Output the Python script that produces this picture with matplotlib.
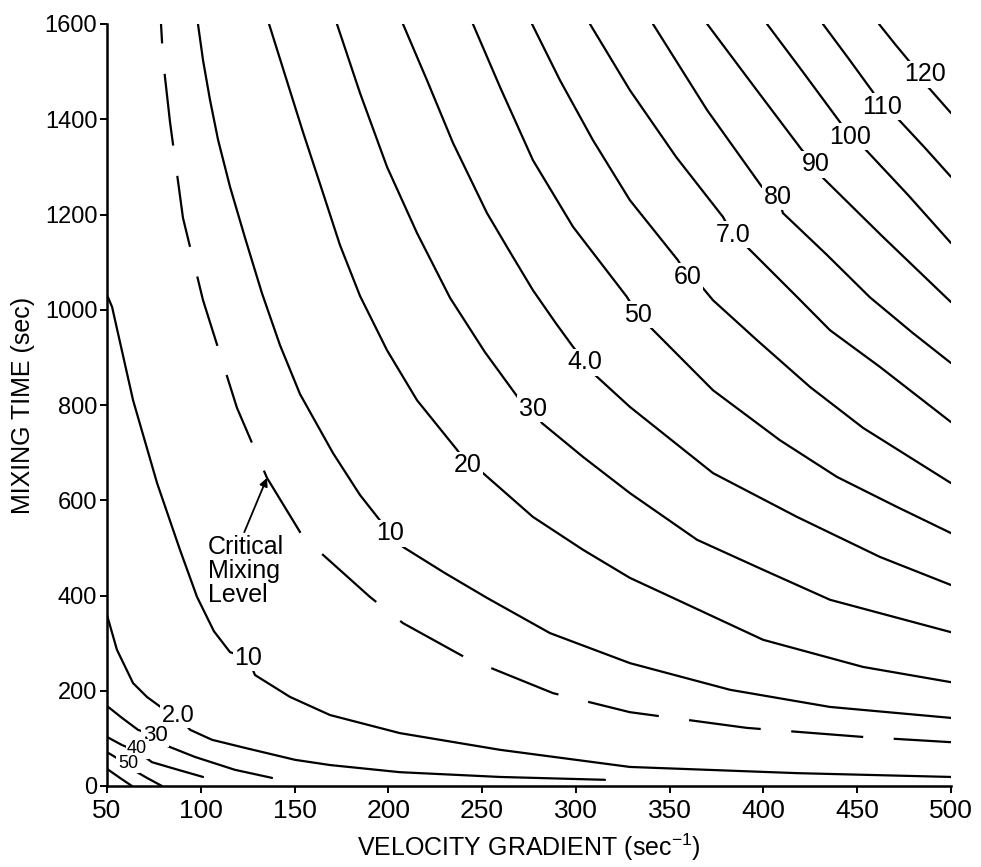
import matplotlib
matplotlib.use("Agg")
import matplotlib.pyplot as plt

plt.rcParams['font.family'] = ['Liberation Sans', 'DejaVu Sans']
plt.rcParams['mathtext.fontset'] = 'custom'
plt.rcParams['mathtext.rm'] = 'Liberation Sans'
plt.rcParams['lines.scale_dashes'] = False

# ---- data (velocity gradient G, mixing time t) ----
# upper family of curves
u10_g = [98.5, 101.2, 104.9, 109.2, 115.6, 123.6, 132.6, 142.2, 152.9, 170.5, 184.9, 200.9, 207.8, 230.2, 252.6, 286.2, 328.8, 382.2, 435.5, 500]
u10_t = [1600, 1524, 1441, 1357, 1258, 1151, 1035, 926, 823, 699, 611, 531, 502, 447, 395, 321, 258, 202, 166, 143]

u20_g = [136.4, 145.4, 154.5, 164.1, 174.2, 184.9, 199.3, 215.3, 236.6, 242.5, 249.9, 277.1, 303.8, 328.8, 351.8, 399.8, 453.1, 500]
u20_t = [1600, 1487, 1373, 1258, 1136, 1029, 915, 810, 706, 674, 659, 565, 496, 437, 395, 307, 250, 218]

u30_g = [172.6, 184.9, 199.3, 215.3, 232.9, 251.5, 270.2, 277.1, 281.9, 303.8, 328.8, 364.6, 399.8, 435.5, 500]
u30_t = [1600, 1455, 1300, 1161, 1025, 911, 810, 792, 762, 691, 615, 517, 454, 391, 323]

u40_g = [207.8, 220.6, 234.5, 252.6, 264.9, 277.1, 288.9, 298.5, 304.9, 310.2, 328.8, 373.1, 417.9, 462.1, 500]
u40_t = [1600, 1482, 1350, 1203, 1121, 1041, 974, 922, 890, 863, 796, 657, 565, 481, 422]

u50_g = [245.1, 259.5, 277.1, 298.5, 327.2, 333.1, 339.5, 373.1, 408.8, 439.2, 471.2, 500]
u50_t = [1600, 1468, 1314, 1174, 1027, 989, 964, 831, 726, 649, 586, 531]

u60_g = [276.6, 291.5, 309.1, 328.8, 354.4, 359.8, 367.2, 373.1, 396.6, 424.8, 453.1, 500]
u60_t = [1600, 1482, 1356, 1230, 1104, 1069, 1048, 1020, 936, 838, 752, 636]

u70_g = [307.5, 328.8, 353.4, 378.4, 383.8, 391.2, 417.9, 435.5, 462.1, 500]
u70_t = [1600, 1461, 1321, 1195, 1157, 1132, 1027, 957, 880, 764]

u80_g = [341.1, 370.0, 399.2, 407.7, 410.4, 433.9, 456.8, 479.7, 500]
u80_t = [1600, 1419, 1258, 1237, 1203, 1115, 1026, 951, 888]

u90_g = [370.0, 395.5, 420.6, 428.0, 431.7, 463.7, 500]
u90_t = [1600, 1466, 1335, 1306, 1277, 1153, 1016]

u100_g = [401.9, 421.1, 440.8, 446.1, 453.1, 477.1, 500]
u100_t = [1600, 1499, 1394, 1363, 1342, 1241, 1140]

u110_g = [431.7, 445.1, 458.4, 463.2, 471.2, 486.1, 500]
u110_t = [1600, 1529, 1457, 1426, 1403, 1340, 1279]

u120_g = [461.6, 470.1, 478.1, 486.1, 487.7, 500]
u120_t = [1600, 1558, 1520, 1495, 1468, 1413]

# lower family of curves
l10_g = [50, 52.7, 63.9, 76.7, 88.9, 98.0, 107.0, 115.6, 125.2, 128.9, 147.6, 168.9, 206.2, 259.5, 328.8, 417.9, 500]
l10_t = [1031, 1006, 810, 636, 496, 397, 325, 281, 269, 233, 187, 149, 111, 76, 40, 27, 19]

l20_g = [50, 55.3, 63.9, 71.3, 79.3, 87.9, 94.3, 106.0, 123.6, 150.2, 168.9, 206.2, 259.5, 315.5]
l20_t = [359, 286, 216, 187, 164, 147, 118, 97, 80, 55, 44, 29, 19, 13]

l30_g = [50, 58.0, 66.5, 75.6, 80.9, 96.9, 118.2, 138.0]
l30_t = [168, 143, 118, 105, 86, 61, 34, 17]

l40_g = [50, 58.0, 66.0, 74.0, 87.9, 101.2]
l40_t = [103, 86, 73, 50, 34, 19]

l50_g = [50, 54.3, 60.1, 63.9, 71.3, 79.3]
l50_t = [71, 61, 46, 34, 17, 0]

l60_g = [50, 56.9, 63.3]
l60_t = [36, 17, 0]

# critical mixing level (dashed)
crit_g = [78.8, 79.9, 83.6, 90.5, 101.2, 119.3, 135.3, 154.5, 190.2, 207.8, 241.4, 287.8, 328.8, 391.2, 453.1, 500]
crit_t = [1600, 1524, 1394, 1193, 1020, 794, 647, 523, 397, 342, 269, 195, 155, 122, 103, 92]

# curve labels
upper_labels = ["10", "20", "30", "4.0", "50", "60", "7.0", "80", "90", "100", "110", "120"]
upper_lab_g = [200.9, 242.5, 277.1, 304.9, 333.1, 359.8, 383.8, 407.7, 428.0, 446.1, 463.2, 486.1]
upper_lab_t = [531, 674, 792, 890, 989, 1069, 1157, 1237, 1306, 1363, 1426, 1495]

lower_labels = ["10", "2.0", "30", "40", "50"]
lower_lab_g = [125.2, 87.9, 75.6, 66.0, 61.2]
lower_lab_t = [269, 147, 107, 78, 48]
lower_lab_size = [18, 17, 16, 13, 13]

x_ticks = [50, 100, 150, 200, 250, 300, 350, 400, 450, 500]
y_ticks = [0, 200, 400, 600, 800, 1000, 1200, 1400, 1600]

# ---- figure ----
fig = plt.figure(figsize=(9.81, 8.67), dpi=100)
ax = fig.add_axes([107 / 981, 1 - 786 / 867, 844 / 981, 762 / 867])

solid = [(u10_g, u10_t), (u20_g, u20_t), (u30_g, u30_t), (u40_g, u40_t),
         (u50_g, u50_t), (u60_g, u60_t), (u70_g, u70_t), (u80_g, u80_t),
         (u90_g, u90_t), (u100_g, u100_t), (u110_g, u110_t), (u120_g, u120_t),
         (l10_g, l10_t), (l20_g, l20_t), (l30_g, l30_t), (l40_g, l40_t),
         (l50_g, l50_t), (l60_g, l60_t)]
for g, t in solid:
    ax.plot(g, t, color='black', lw=1.6, solid_capstyle='round',
            solid_joinstyle='round', zorder=2)

ax.plot(crit_g, crit_t, color='black', lw=1.6, linestyle=(38, (52, 22)), zorder=2)

box = dict(facecolor='white', edgecolor='none', pad=1.0)
for s, g, t in zip(upper_labels, upper_lab_g, upper_lab_t):
    ax.text(g, t, s, ha='center', va='center', fontsize=18, bbox=box, zorder=3)
for s, g, t, fs in zip(lower_labels, lower_lab_g, lower_lab_t, lower_lab_size):
    ax.text(g, t, s, ha='center', va='center', fontsize=fs, bbox=box, zorder=3)

ax.annotate("Critical\nMixing\nLevel", xy=(135.3, 647), xytext=(103.9, 527),
            ha='left', va='top', fontsize=18, linespacing=1.0,
            arrowprops=dict(arrowstyle='-|>', color='black', lw=1.3,
                            mutation_scale=12, shrinkA=0, shrinkB=0,
                            relpos=(0.46, 1.0)))

ax.set_xlim(50, 500)
ax.set_ylim(0, 1600)
ax.set_xticks(x_ticks)
ax.set_yticks(y_ticks)
ax.tick_params(axis='x', labelsize=19, length=5, width=1.4, direction='out', pad=4)
ax.tick_params(axis='y', labelsize=17, length=5, width=1.4, direction='out', pad=2)
for side in ['top', 'right']:
    ax.spines[side].set_visible(False)
for side in ['left', 'bottom']:
    ax.spines[side].set_linewidth(1.8)

ax.set_xlabel("VELOCITY GRADIENT (sec$^{\\mathregular{-1}}$)", fontsize=18)
ax.set_ylabel("MIXING TIME (sec)", fontsize=18)
ax.xaxis.label.set_va('center')
ax.yaxis.label.set_va('center')
ax.xaxis.set_label_coords(0.50, -0.081)
ax.yaxis.set_label_coords(-0.0995, 0.50)

fig.savefig("out.png", dpi=100)
